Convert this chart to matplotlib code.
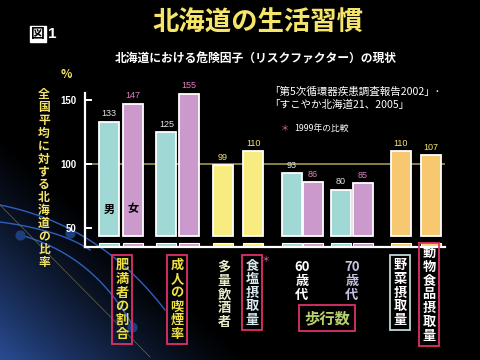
import numpy as np
import matplotlib
matplotlib.use("Agg")
import matplotlib.pyplot as plt

plt.rcParams['font.family'] = ['Noto Sans CJK JP', 'DejaVu Sans']

# データ（全国平均=100 に対する北海道の比率）
values = [133, 147, 125, 155, 99, 110, 93, 86, 80, 85, 110, 107]
kinds = ['m', 'f', 'm', 'f', 'y', 'y', 'm', 'f', 'm', 'f', 'o', 'o']
yticks = [50, 100, 150]

bar_colors = {'m': '#9fd8d4', 'f': '#cc99cc', 'y': '#f8ec80', 'o': '#f8c870'}
num_colors = {'m': '#e6e6e6', 'f': '#e080c0', 'y': '#f5e66a', 'o': '#f5e66a'}

# バーの並び（グループごとの位置）
xpos = [1.07, 2.13, 3.62, 4.62, 6.13, 7.47, 9.18, 10.13, 11.36, 12.36, 14.04, 15.38]
bar_w = 0.89
y_bottom = 35.6   # 軸の下端
y_break = 44.3    # 省略線の上

W, H = 480, 360
def fx(px):
    return px / W
def fy(py):
    return 1 - py / H

fig = plt.figure(figsize=(4.8, 3.6), dpi=100)
fig.patch.set_facecolor('black')

# 背景（左下の青いグラデーションと線）
bg = fig.add_axes([0, 0, 1, 1], zorder=-5)
bg.set_xlim(0, W)
bg.set_ylim(H, 0)
bg.axis('off')
yy, xx = np.mgrid[0:H, 0:W]
d = np.clip(((H - yy) * 1.0 + xx * 0.9) / 230.0, 0, 1)
s = (1 - d) ** 1.3
img = np.zeros((H, W, 3))
img[..., 0] = 0.16 * s
img[..., 1] = 0.30 * s
img[..., 2] = 0.58 * s
bg.imshow(img, extent=(0, W, H, 0), aspect='auto')

t = np.linspace(0, 1, 100)
def bez(p0, p1, p2):
    return ((1 - t) ** 2 * p0[0] + 2 * (1 - t) * t * p1[0] + t ** 2 * p2[0],
            (1 - t) ** 2 * p0[1] + 2 * (1 - t) * t * p1[1] + t ** 2 * p2[1])
for p in [((0, 205), (100, 225), (165, 310)),
          ((20, 235), (95, 255), (135, 330)),
          ((0, 222), (60, 230), (90, 250))]:
    bx, by = bez(*p)
    bg.plot(bx, by, color='#2f5fc0', lw=1.0)
bg.plot([0, 150], [205, 357], color='#6a6a40', lw=0.5)
bg.scatter([20, 70, 132], [235, 233, 327], s=40, color='#1d3f80', zorder=3)

# メインのグラフ
ax = fig.add_axes([fx(85), fy(246.7), fx(445) - fx(85), fy(93) - fy(246.7)])
ax.set_facecolor('none')
ax.set_xlim(0, 16)
ax.set_ylim(y_bottom, 155.5)

ax.axhline(100, color='#8a7f45', lw=1.4, zorder=1)

cols = [bar_colors[k] for k in kinds]
heights = [v - y_break for v in values]
ax.bar(xpos, heights, bottom=y_break, width=bar_w, color=cols,
       edgecolor='white', linewidth=1.3, zorder=2)
ax.bar(xpos, [2.8] * len(xpos), bottom=y_bottom, width=bar_w, color=cols,
       edgecolor='white', linewidth=0.8, zorder=2)

for x, v, k in zip(xpos, values, kinds):
    ax.annotate(str(v), (x, v), xytext=(0, 2.5), textcoords='offset points',
                ha='center', va='bottom', fontsize=6.5, color=num_colors[k],
                family=['Liberation Sans', 'DejaVu Sans'])

ax.text(xpos[0], 65, '男', ha='center', va='center', fontsize=8, color='black',
        fontweight='bold')
ax.text(xpos[1], 65, '女', ha='center', va='center', fontsize=8, color='black',
        fontweight='bold')

for sp in ['top', 'right']:
    ax.spines[sp].set_visible(False)
ax.spines['left'].set_color('white')
ax.spines['bottom'].set_color('white')
ax.spines['left'].set_linewidth(1.6)
ax.spines['bottom'].set_linewidth(1.6)
ax.set_xticks([])
ax.set_yticks(yticks)
ax.tick_params(axis='y', direction='in', length=5, width=1.4, color='white',
               labelcolor='white', labelsize=7, pad=6)
for lab in ax.get_yticklabels():
    lab.set_family(['Liberation Sans', 'DejaVu Sans'])
    lab.set_fontweight('bold')

# タイトルなど
fig.text(fx(257.5), fy(23), '北海道の生活習慣', ha='center', va='center',
         fontsize=19, fontweight='bold', color='#f5e66a')
fig.text(fx(31), fy(34), '図', ha='left', va='center', fontsize=10,
         fontweight='bold', color='black',
         bbox=dict(boxstyle='square,pad=0.05', fc='white', ec='white'))
fig.text(fx(48), fy(34), '1', ha='left', va='center', fontsize=11,
         fontweight='bold', color='white', family=['Liberation Sans', 'DejaVu Sans'])
fig.text(fx(256), fy(59), '北海道における危険因子（リスクファクター）の現状',
         ha='center', va='center', fontsize=8.5, fontweight='bold', color='white')
fig.text(fx(66), fy(74), '%', ha='center', va='center', fontsize=8.5,
         fontweight='bold', color='#f5e66a')

ylab = '全国平均に対する北海道の比率'
fig.text(fx(44), fy(88), '\n'.join(ylab), ha='center', va='top', fontsize=8.5,
         fontweight='bold', color='#f5e66a', linespacing=0.99)

fig.text(fx(269), fy(92), '「第5次循環器疾患調査報告2002」･', ha='left', va='center',
         fontsize=7.6, color='white')
fig.text(fx(269), fy(104.5), '「すこやか北海道21、2005」', ha='left', va='center',
         fontsize=7.6, color='white')
fig.text(fx(281), fy(128.5), '＊', ha='left', va='center', fontsize=6,
         color='#e070b0')
fig.text(fx(294), fy(128.5), '1999年の比較', ha='left', va='center', fontsize=6.3,
         color='white')

# 項目名（縦書き）
pink = '#e0306a'
items = [
    ('肥満者の割合', 122, 258, '#f0e040', pink),
    ('成人の喫煙率', 177, 258, '#f0e040', pink),
    ('多量飲酒者', 224, 260, '#e8ecc8', None),
    ('食塩摂取量', 252, 258, '#d8e8f0', pink),
    ('60歳代', 302, 260, 'white', None),
    ('70歳代', 352, 260, '#c8c0e0', None),
    ('野菜摂取量', 400, 258, 'white', '#c0d8d8'),
    ('動物食品摂取量', 429, 246, 'white', pink),
]
for txt, x, y, c, ec in items:
    if txt[0].isdigit():
        s_txt = txt[:2] + '\n' + '\n'.join(txt[2:])
    else:
        s_txt = '\n'.join(txt)
    kw = {}
    if ec:
        kw['bbox'] = dict(boxstyle='square,pad=0.25', fc='none', ec=ec, lw=1.3)
    fig.text(fx(x), fy(y), s_txt, ha='center', va='top', fontsize=9.5,
             fontweight='bold', color=c, linespacing=0.98, **kw)

fig.text(fx(266), fy(259), '＊', ha='center', va='center', fontsize=6, color='#e070b0')
fig.text(fx(327), fy(318), '歩行数', ha='center', va='center', fontsize=11,
         fontweight='bold', color='#b8d070',
         bbox=dict(boxstyle='square,pad=0.35', fc='none', ec=pink, lw=1.3))

fig.savefig('out.png', dpi=100, facecolor='black')
